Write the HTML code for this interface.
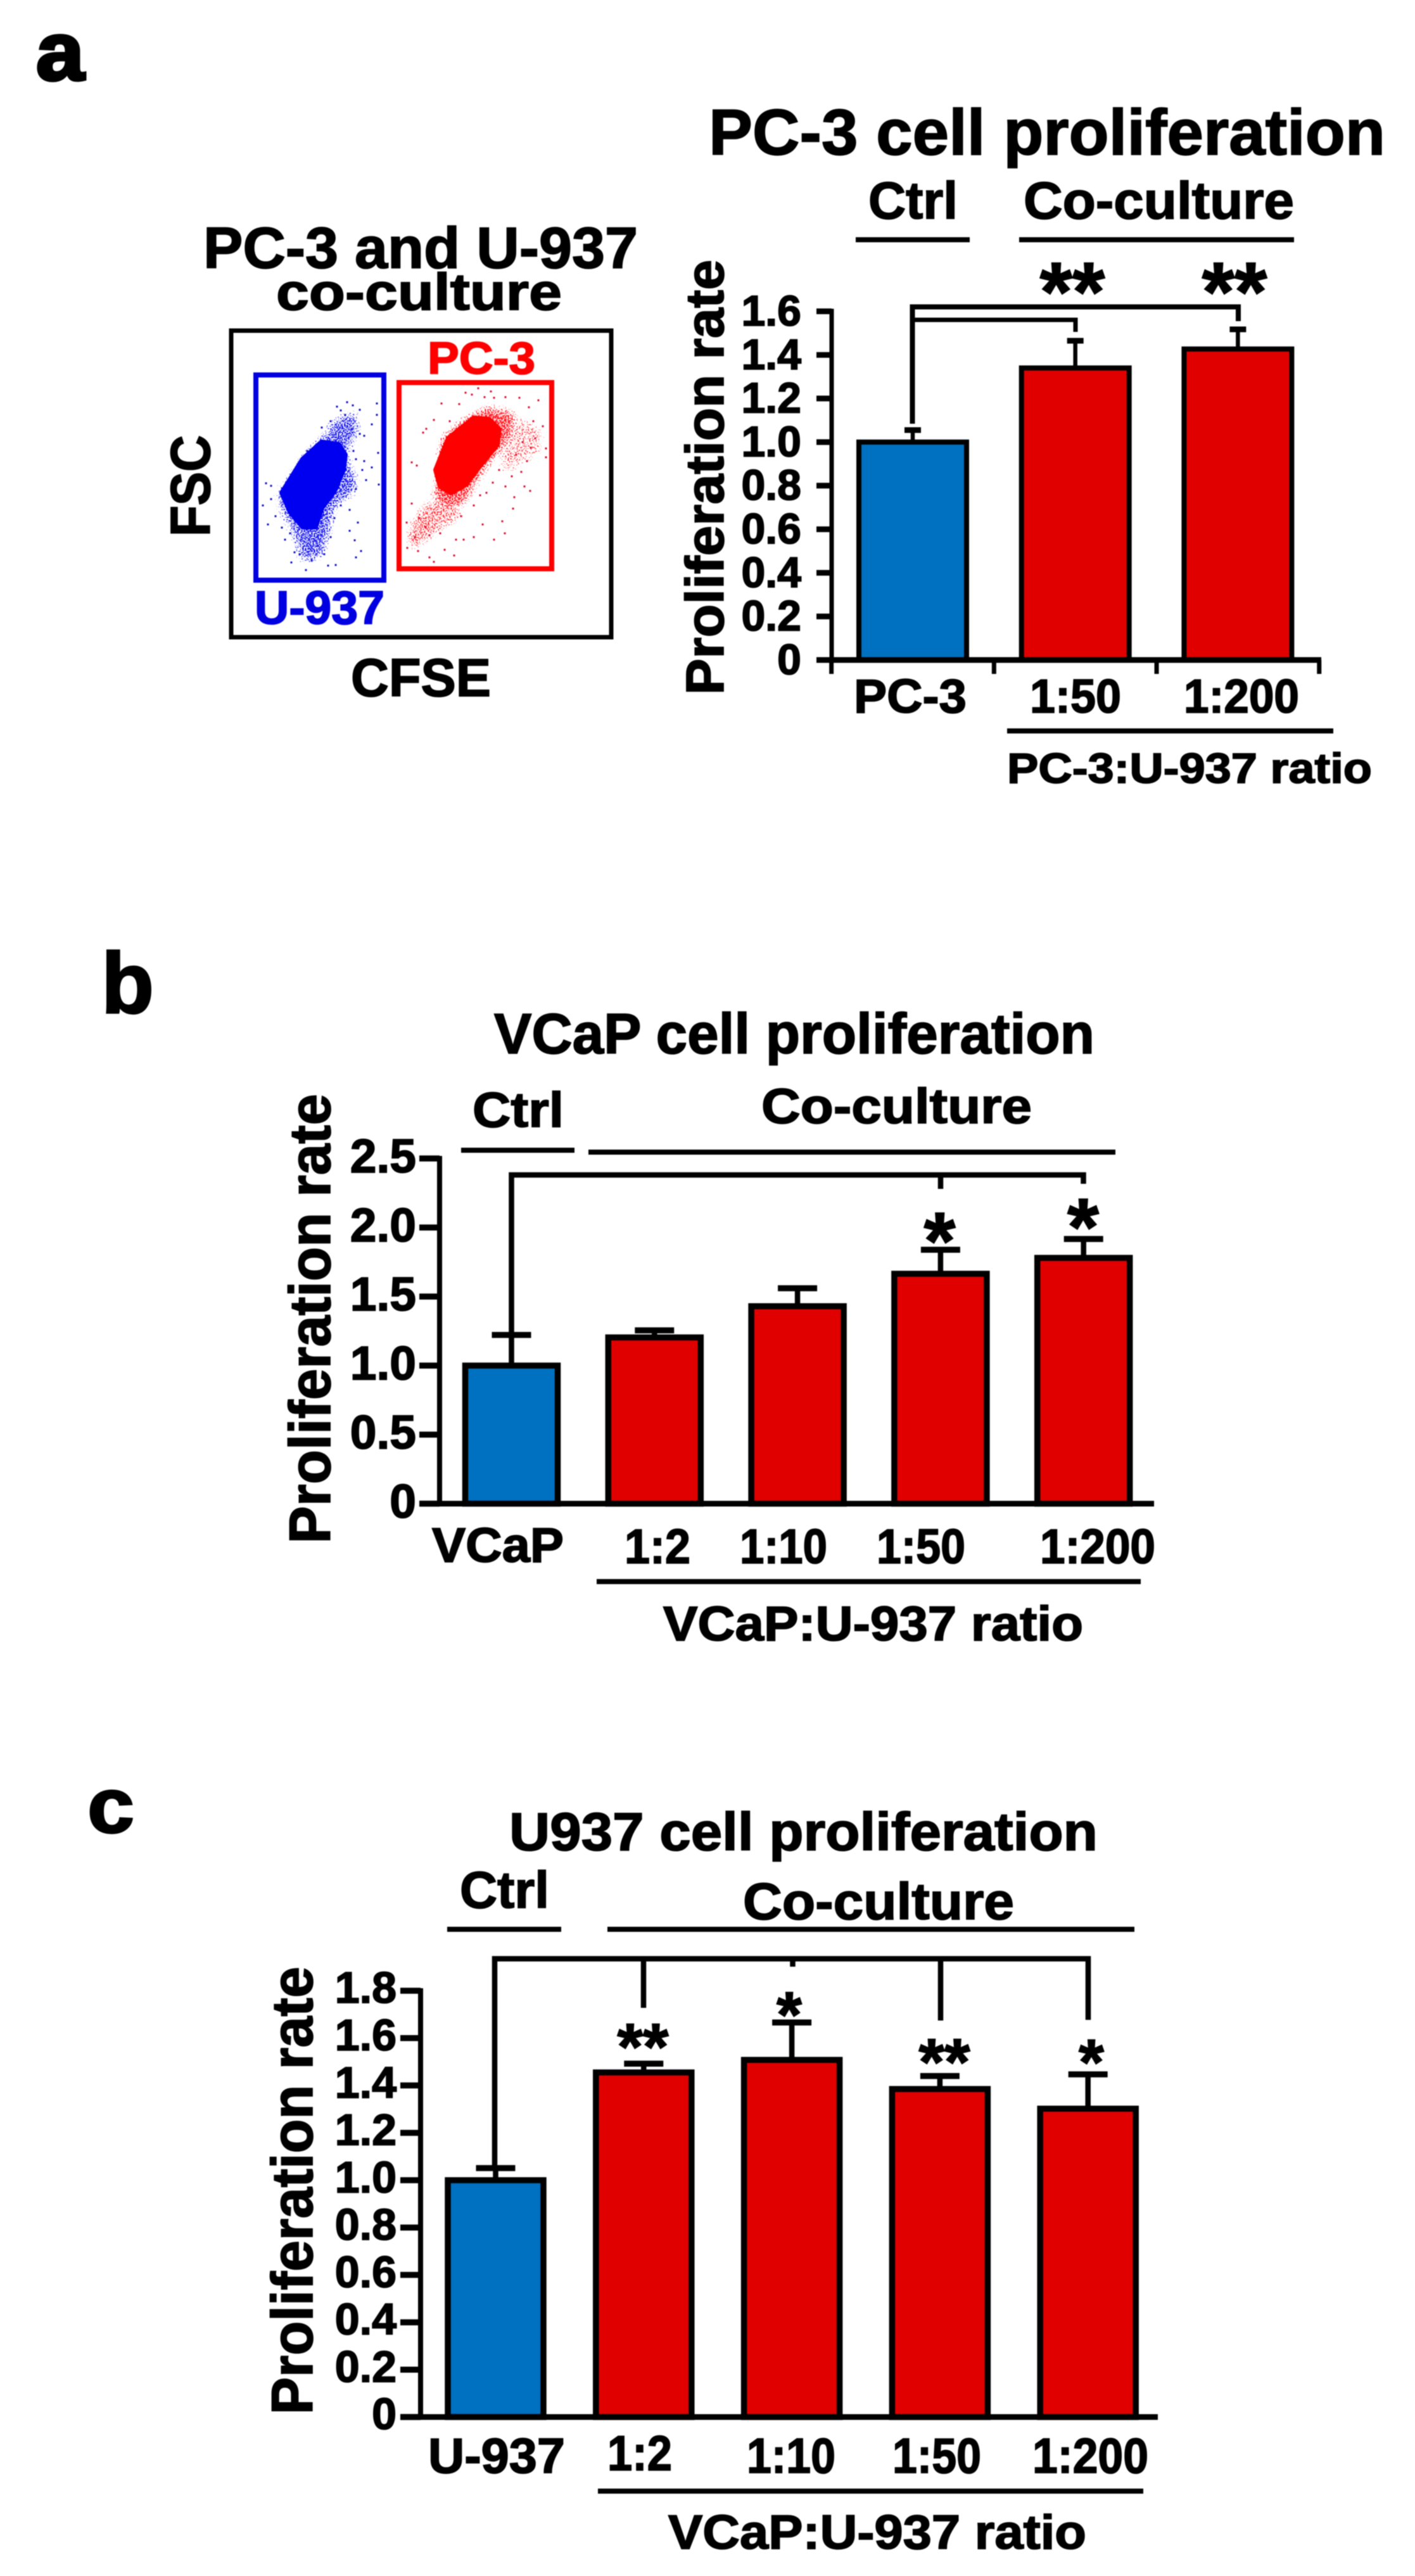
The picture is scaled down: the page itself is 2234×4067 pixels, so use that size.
<!DOCTYPE html>
<html lang="en">
<head>
<meta charset="utf-8">
<title>Cell proliferation in co-culture</title>
<style>
  html, body { margin: 0; padding: 0; background: #fff; }
  #page { width: 2234px; height: 4067px; overflow: hidden; }
  svg { display: block; filter: blur(0.7px); }
  text { font-family: "Liberation Sans", Arial, sans-serif; font-weight: bold; fill: #000; stroke: #000; stroke-width: 1.8px; }
  text.red { fill: #ff0000; stroke: #ff0000; }
  text.blue { fill: #0000e0; stroke: #0000e0; }
  .ln { stroke: #000; fill: none; stroke-width: 8; }
</style>
</head>
<body>
<div id="page">
<svg id="figure" width="2234" height="4067" viewBox="0 0 2234 4067" xmlns="http://www.w3.org/2000/svg">
  <defs>
    <filter id="stipple-blue" filterUnits="userSpaceOnUse" x="395" y="585" width="490" height="340" color-interpolation-filters="sRGB">
      <feGaussianBlur in="SourceAlpha" stdDeviation="9" result="soft"/>
      <feTurbulence type="fractalNoise" baseFrequency="0.5" numOctaves="1" seed="4" result="raw"/>
      <feColorMatrix in="raw" type="matrix" values="0 0 0 0 0  0 0 0 0 0  0 0 0 0 0  1 0 0 0 0" result="noise"/>
      <feComposite in="soft" in2="noise" operator="arithmetic" k1="0" k2="1" k3="1" k4="-1" result="sum"/>
      <feComponentTransfer in="sum" result="mask"><feFuncA type="linear" slope="9" intercept="0"/></feComponentTransfer>
      <feFlood flood-color="#0000e6"/>
      <feComposite in2="mask" operator="in"/>
    </filter>
    <filter id="stipple-red" filterUnits="userSpaceOnUse" x="395" y="585" width="490" height="340" color-interpolation-filters="sRGB">
      <feGaussianBlur in="SourceAlpha" stdDeviation="9" result="soft"/>
      <feTurbulence type="fractalNoise" baseFrequency="0.5" numOctaves="1" seed="9" result="raw"/>
      <feColorMatrix in="raw" type="matrix" values="0 0 0 0 0  0 0 0 0 0  0 0 0 0 0  1 0 0 0 0" result="noise"/>
      <feComposite in="soft" in2="noise" operator="arithmetic" k1="0" k2="1" k3="1" k4="-1" result="sum"/>
      <feComponentTransfer in="sum" result="mask"><feFuncA type="linear" slope="9" intercept="0"/></feComponentTransfer>
      <feFlood flood-color="#ff0a14"/>
      <feComposite in2="mask" operator="in"/>
    </filter>
  </defs>
  <rect width="2234" height="4067" fill="#fff"/>

  <!-- Panel a: flow plot -->
  <g id="flow">
    <text x="57" y="126" font-size="130" textLength="76" lengthAdjust="spacingAndGlyphs" style="stroke-width:5px">a</text>
    <text x="321" y="423" font-size="92" textLength="686" lengthAdjust="spacingAndGlyphs">PC-3 and U-937</text>
    <text x="436" y="489" font-size="82" textLength="451" lengthAdjust="spacingAndGlyphs">co-culture</text>
    <rect x="365" y="522" width="600" height="484" fill="none" stroke="#000" stroke-width="7"/>
    <g id="flow-events"></g>
    <rect x="404" y="592" width="202" height="324" fill="none" stroke="#0000e0" stroke-width="8"/>
    <rect x="630" y="604" width="241" height="294" fill="none" stroke="#ff0000" stroke-width="8"/>
    <text class="red" x="675" y="590" font-size="71" textLength="170" lengthAdjust="spacingAndGlyphs">PC-3</text>
    <text class="blue" x="402" y="985" font-size="74" textLength="205" lengthAdjust="spacingAndGlyphs">U-937</text>
    <text x="331" y="847" font-size="88" textLength="160" lengthAdjust="spacingAndGlyphs" transform="rotate(-90 331 847)">FSC</text>
    <text x="554" y="1099" font-size="84" textLength="221" lengthAdjust="spacingAndGlyphs">CFSE</text>
  </g>

  <!-- Panel a: bar chart -->
  <g id="chartA">
    <text x="1119" y="244" font-size="102" textLength="1068" lengthAdjust="spacingAndGlyphs">PC-3 cell proliferation</text>
    <text x="1371" y="345" font-size="83" textLength="141" lengthAdjust="spacingAndGlyphs">Ctrl</text>
    <text x="1616" y="345" font-size="83" textLength="427" lengthAdjust="spacingAndGlyphs">Co-culture</text>
    <line class="ln" x1="1351" y1="378.5" x2="1531" y2="378.5"/>
    <line class="ln" x1="1609" y1="378.5" x2="2043" y2="378.5"/>
    <path class="ln" d="M1440.5 669V484.5H1955V507"/>
    <path class="ln" style="stroke-width:7" d="M1440.5 505H1698V524"/>
    <text x="1693" y="506" font-size="132" text-anchor="middle">**</text>
    <text x="1949" y="506" font-size="132" text-anchor="middle">**</text>
    <text x="1142" y="1097" font-size="84" textLength="687" lengthAdjust="spacingAndGlyphs" transform="rotate(-90 1142 1097)">Proliferation rate</text>
    <text x="1348" y="1125" font-size="75" textLength="178" lengthAdjust="spacingAndGlyphs">PC-3</text>
    <text x="1626" y="1125" font-size="75" textLength="144" lengthAdjust="spacingAndGlyphs">1:50</text>
    <text x="1869" y="1125" font-size="75" textLength="182" lengthAdjust="spacingAndGlyphs">1:200</text>
    <line class="ln" x1="1590" y1="1154" x2="2105" y2="1154"/>
    <text x="1590" y="1236" font-size="67" textLength="576" lengthAdjust="spacingAndGlyphs">PC-3:U-937 ratio</text>
  </g>

  <!-- Panel b -->
  <g id="chartB">
    <text x="160" y="1599" font-size="136" textLength="83" lengthAdjust="spacingAndGlyphs" style="stroke-width:3px">b</text>
    <text x="780" y="1663" font-size="90" textLength="948" lengthAdjust="spacingAndGlyphs">VCaP cell proliferation</text>
    <text x="746" y="1779" font-size="78" textLength="144" lengthAdjust="spacingAndGlyphs">Ctrl</text>
    <text x="1202" y="1773" font-size="78" textLength="427" lengthAdjust="spacingAndGlyphs">Co-culture</text>
    <line class="ln" x1="728" y1="1816" x2="907" y2="1816"/>
    <line class="ln" x1="929" y1="1819" x2="1761" y2="1819"/>
    <path class="ln" style="stroke-width:8.5" d="M807.5 2108V1855H1710.5V1869M1485 1855V1877"/>
    <text x="1483.5" y="2003" font-size="128" text-anchor="middle">*</text>
    <text x="1710" y="1981" font-size="128" text-anchor="middle">*</text>
    <text x="521" y="2437" font-size="92" textLength="710" lengthAdjust="spacingAndGlyphs" transform="rotate(-90 521 2437)">Proliferation rate</text>
    <text x="682" y="2466" font-size="77" textLength="208" lengthAdjust="spacingAndGlyphs">VCaP</text>
    <text x="986" y="2468" font-size="77" textLength="104" lengthAdjust="spacingAndGlyphs">1:2</text>
    <text x="1168" y="2468" font-size="77" textLength="138" lengthAdjust="spacingAndGlyphs">1:10</text>
    <text x="1384" y="2468" font-size="77" textLength="140" lengthAdjust="spacingAndGlyphs">1:50</text>
    <text x="1642" y="2468" font-size="77" textLength="182" lengthAdjust="spacingAndGlyphs">1:200</text>
    <line class="ln" x1="942" y1="2497" x2="1801" y2="2497"/>
    <text x="1047" y="2590" font-size="77" textLength="663" lengthAdjust="spacingAndGlyphs">VCaP:U-937 ratio</text>
  </g>

  <!-- Panel c -->
  <g id="chartC">
    <text x="138" y="2893" font-size="123" textLength="74" lengthAdjust="spacingAndGlyphs" style="stroke-width:3px">c</text>
    <text x="804" y="2921" font-size="84" textLength="929" lengthAdjust="spacingAndGlyphs">U937 cell proliferation</text>
    <text x="726" y="3012" font-size="82" textLength="141" lengthAdjust="spacingAndGlyphs">Ctrl</text>
    <text x="1173" y="3030" font-size="82" textLength="428" lengthAdjust="spacingAndGlyphs">Co-culture</text>
    <line class="ln" x1="706" y1="3046" x2="886" y2="3046"/>
    <line class="ln" x1="959" y1="3046" x2="1791" y2="3046"/>
    <path class="ln" style="stroke-width:8.5" d="M781 3422V3092.5H1718V3189M1016 3092.5V3170M1251.5 3092.5V3105M1485 3092.5V3190"/>
    <text x="1015" y="3267" font-size="104" text-anchor="middle">**</text>
    <text x="1246" y="3216" font-size="102" text-anchor="middle">*</text>
    <text x="1491" y="3291" font-size="104" text-anchor="middle">**</text>
    <text x="1723" y="3291" font-size="102" text-anchor="middle">*</text>
    <text x="493" y="3812" font-size="92" textLength="707" lengthAdjust="spacingAndGlyphs" transform="rotate(-90 493 3812)">Proliferation rate</text>
    <text x="676" y="3904" font-size="78" textLength="216" lengthAdjust="spacingAndGlyphs">U-937</text>
    <text x="959" y="3900" font-size="78" textLength="102" lengthAdjust="spacingAndGlyphs">1:2</text>
    <text x="1179" y="3904" font-size="78" textLength="140" lengthAdjust="spacingAndGlyphs">1:10</text>
    <text x="1409" y="3904" font-size="78" textLength="140" lengthAdjust="spacingAndGlyphs">1:50</text>
    <text x="1630" y="3904" font-size="78" textLength="183" lengthAdjust="spacingAndGlyphs">1:200</text>
    <line class="ln" x1="944" y1="3933" x2="1805" y2="3933"/>
    <text x="1055" y="4024" font-size="76" textLength="660" lengthAdjust="spacingAndGlyphs">VCaP:U-937 ratio</text>
  </g>
</svg>
</div>

<script>
// ---------- Chart data ----------
const pc3Categories = ['PC-3', '1:50', '1:200'];
const pc3Values = [1.0, 1.34, 1.427];
const pc3ErrorTops = [1.055, 1.465, 1.517];
const pc3Ticks = [0, 0.2, 0.4, 0.6, 0.8, 1.0, 1.2, 1.4, 1.6];
const pc3TickLabels = ['0', '0.2', '0.4', '0.6', '0.8', '1.0', '1.2', '1.4', '1.6'];

const vcapCategories = ['VCaP', '1:2', '1:10', '1:50', '1:200'];
const vcapValues = [1.0, 1.204, 1.43, 1.665, 1.78];
const vcapErrorTops = [1.222, 1.255, 1.56, 1.839, 1.917];
const vcapTicks = [0, 0.5, 1.0, 1.5, 2.0, 2.5];
const vcapTickLabels = ['0', '0.5', '1.0', '1.5', '2.0', '2.5'];

const u937Categories = ['U-937', '1:2', '1:10', '1:50', '1:200'];
const u937Values = [1.0, 1.455, 1.508, 1.385, 1.302];
const u937ErrorTops = [1.051, 1.492, 1.666, 1.44, 1.447];
const u937Ticks = [0, 0.2, 0.4, 0.6, 0.8, 1.0, 1.2, 1.4, 1.6, 1.8];
const u937TickLabels = ['0', '0.2', '0.4', '0.6', '0.8', '1.0', '1.2', '1.4', '1.6', '1.8'];

// Flow cytometry channels (CFSE, FSC), estimated from the plot
const u937CoreCfse = [50, 83, 113, 140, 150, 147, 133, 113, 103, 83, 63];
const u937CoreFsc = [147, 200, 227, 223, 207, 183, 150, 123, 93, 93, 117];
const u937HaloCfse = [37, 80, 110, 130, 173, 178, 157, 177, 170, 140, 133, 120, 77, 60, 40];
const u937HaloFsc = [147, 213, 240, 270, 283, 240, 207, 167, 140, 123, 87, 40, 30, 83, 120];
const u937EventCfse = [153, 137, 162, 173, 200, 200, 192, 180, 202, 192, 180, 203, 183, 167, 170, 165, 175, 167, 135, 123, 88, 65, 78, 70, 55, 28, 20, 25, 33, 33, 40, 50, 63, 117, 107, 97, 133, 143, 157, 157, 127, 167, 163, 177, 173, 143, 127, 113, 150, 90];
const u937EventFsc = [290, 283, 285, 278, 288, 270, 255, 237, 210, 187, 197, 160, 167, 153, 100, 72, 55, 45, 33, 32, 25, 37, 50, 53, 73, 97, 127, 162, 158, 137, 110, 92, 83, 50, 63, 40, 107, 127, 120, 87, 77, 200, 213, 183, 240, 277, 260, 250, 270, 213];

const pc3CoreCfse = [293, 313, 353, 377, 393, 390, 363, 340, 317, 300];
const pc3CoreFsc = [183, 233, 265, 263, 247, 223, 190, 160, 147, 157];
const pc3HaloCfse = [290, 293, 333, 373, 427, 420, 383, 360, 340, 300, 280];
const pc3HaloFsc = [173, 233, 270, 290, 280, 230, 190, 153, 120, 113, 140];
const pc3TailCfse = [243, 277, 347, 333, 300, 267, 243];
const pc3TailFsc = [97, 143, 133, 100, 80, 53, 53];
const pc3ArmCfse = [417, 467, 467, 400, 383];
const pc3ArmFsc = [277, 253, 207, 167, 200];
const pc3EventCfse = [360, 380, 370, 350, 340, 385, 403, 425, 455, 330, 302, 440, 462, 447, 450, 430, 443, 467, 420, 437, 467, 428, 413, 403, 442, 433, 417, 415, 398, 402, 385, 367, 353, 337, 325, 322, 307, 290, 283, 265, 248, 247, 255, 255, 263, 278, 273, 290, 315, 363, 353, 383, 373, 393, 333, 283, 300, 267, 277, 260];
const pc3EventFsc = [312, 307, 298, 302, 305, 297, 298, 297, 293, 287, 288, 282, 252, 260, 233, 227, 218, 217, 207, 197, 203, 180, 173, 157, 150, 157, 140, 122, 102, 83, 73, 97, 77, 73, 73, 48, 57, 38, 45, 55, 60, 100, 130, 195, 190, 248, 242, 262, 260, 143, 127, 163, 147, 183, 110, 80, 83, 107, 93, 77];

// ---------- Layout ----------
const NS = 'http://www.w3.org/2000/svg';
const pc3Layout = { zero: 1042, top: 491.5, yMax: 1.6, axisX: 1313, tickLeft: 1289, axisRight: 2086, firstCenter: 1441, step: 256.7, barWidth: 170, barStroke: 8, whisker: 6.5, capHalf: 13, capThick: 9, tickThick: 9, tickFont: 68, labelRight: 1265, labelShift: -2, xTicks: true, axisWidth: 7 };
const vcapLayout = { zero: 2374, top: 1829, yMax: 2.5, axisX: 694, tickLeft: 662, axisRight: 1822, firstCenter: 807.5, step: 225.8, barWidth: 146, barStroke: 9.5, whisker: 8.5, capHalf: 31, capThick: 9.5, tickThick: 9.5, tickFont: 75, labelRight: 657, labelShift: -5, xTicks: false, axisWidth: 8 };
const u937Layout = { zero: 3816, top: 3143, yMax: 1.8, axisX: 664, tickLeft: 632, axisRight: 1828, firstCenter: 782.5, step: 233.8, barWidth: 151, barStroke: 9.5, whisker: 8.5, capHalf: 31, capThick: 9.5, tickThick: 9.5, tickFont: 70, labelRight: 626, labelShift: -6, xTicks: false, axisWidth: 8 };

function make(tag, parent, props) {
  const el = document.createElementNS(NS, tag);
  for (const key in props) el.setAttribute(key, props[key]);
  parent.appendChild(el);
  return el;
}

function drawChart(groupId, prefix, layout, categories, values, errorTops, ticks, tickLabels) {
  const group = document.getElementById(groupId);
  const yScale = v => layout.zero + (layout.top - layout.zero) * v / layout.yMax;
  const xScale = i => layout.firstCenter + layout.step * i;

  categories.forEach((category, i) => {
    const cx = xScale(i);
    const whisker = make('line', group, { x1: cx, x2: cx, y1: yScale(values[i]), y2: yScale(errorTops[i]), stroke: '#000', 'stroke-width': layout.whisker });
    
    
    const cap = make('line', group, { x1: cx - layout.capHalf, x2: cx + layout.capHalf, y1: yScale(errorTops[i]), y2: yScale(errorTops[i]), stroke: '#000', 'stroke-width': layout.capThick });
    
    
    const bar = make('rect', group, {
      x: cx - layout.barWidth / 2,
      y: yScale(values[i]),
      width: layout.barWidth,
      height: yScale(0) - yScale(values[i]),
      fill: i === 0 ? '#0070c0' : '#e00000',
      stroke: '#000',
      'stroke-width': layout.barStroke
    });
    
    
  });

  const yAxis = make('line', group, { x1: layout.axisX, x2: layout.axisX, y1: yScale(layout.yMax) - 4, y2: yScale(0), stroke: '#000', 'stroke-width': layout.axisWidth });
  
  
  const xAxis = make('line', group, { x1: layout.tickLeft, x2: layout.axisRight, y1: yScale(0), y2: yScale(0), stroke: '#000', 'stroke-width': 9 });
  
  

  ticks.forEach((tick, i) => {
    const y = yScale(tick);
    const mark = make('line', group, { x1: layout.tickLeft, x2: layout.axisX, y1: y, y2: y, stroke: '#000', 'stroke-width': layout.tickThick });
    
    
    const label = make('text', group, { x: layout.labelRight, y: y + layout.labelShift + layout.tickFont * 0.36, 'font-size': layout.tickFont, 'text-anchor': 'end' });
    label.textContent = tickLabels[i];
    
    
  });

  if (layout.xTicks) {
    for (let i = 0; i <= categories.length; i++) {
      const x = xScale(i) - layout.step / 2;
      const mark = make('line', group, { x1: x, x2: x, y1: yScale(0), y2: yScale(0) + 22, stroke: '#000', 'stroke-width': 7 });
      
      
    }
  }
}

drawChart('chartA', 'pc3', pc3Layout, pc3Categories, pc3Values, pc3ErrorTops, pc3Ticks, pc3TickLabels);
drawChart('chartB', 'vcap', vcapLayout, vcapCategories, vcapValues, vcapErrorTops, vcapTicks, vcapTickLabels);
drawChart('chartC', 'u937', u937Layout, u937Categories, u937Values, u937ErrorTops, u937Ticks, u937TickLabels);

// ---------- Flow plot ----------
const flowGroup = document.getElementById('flow-events');
const cfseScale = c => 395 + c;
const fscScale = f => 925 - f;

function regionPoints(cfse, fsc) {
  return cfse.map((c, i) => cfseScale(c) + ',' + fscScale(fsc[i])).join(' ');
}

function drawStippled(name, cfse, fsc, filterId, density) {
  const region = make('polygon', flowGroup, { points: regionPoints(cfse, fsc), fill: '#000', 'fill-opacity': density, filter: 'url(#' + filterId + ')' });
  
  
}

function drawCore(name, cfse, fsc, color) {
  const region = make('polygon', flowGroup, { points: regionPoints(cfse, fsc), fill: color, stroke: color, 'stroke-width': 8, 'stroke-linejoin': 'round' });
  
  
}

function drawEvents(name, cfse, fsc, color) {
  cfse.forEach((c, i) => {
    const dot = make('rect', flowGroup, { x: cfseScale(c) - 1.5, y: fscScale(fsc[i]) - 1.5, width: 3, height: 3, fill: color });
    
    
  });
}

drawStippled('u937-cloud-halo', u937HaloCfse, u937HaloFsc, 'stipple-blue', 0.56);
drawCore('u937-cloud-core', u937CoreCfse, u937CoreFsc, '#0000f0');
drawEvents('u937-event', u937EventCfse, u937EventFsc, '#1010c0');
drawStippled('pc3-cloud-tail', pc3TailCfse, pc3TailFsc, 'stipple-red', 0.5);
drawStippled('pc3-cloud-arm', pc3ArmCfse, pc3ArmFsc, 'stipple-red', 0.46);
drawStippled('pc3-cloud-halo', pc3HaloCfse, pc3HaloFsc, 'stipple-red', 0.58);
drawCore('pc3-cloud-core', pc3CoreCfse, pc3CoreFsc, '#ff0000');
drawEvents('pc3-event', pc3EventCfse, pc3EventFsc, '#d81030');
</script>
</body>
</html>
